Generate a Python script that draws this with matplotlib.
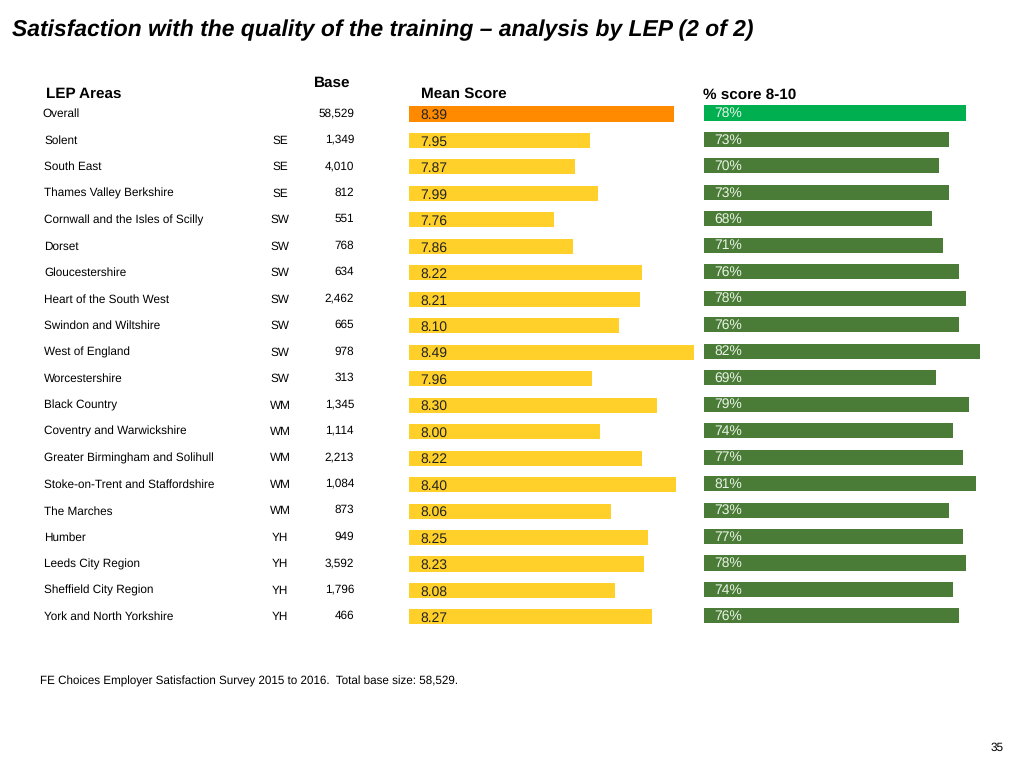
import numpy as np
import matplotlib.pyplot as plt

plt.rcParams['font.family'] = ['Liberation Sans', 'DejaVu Sans']
plt.rcParams['text.hinting'] = 'no_hinting'

# datos ----------------------------------------------------------------

areas = ["Overall", "Solent", "South East", "Thames Valley Berkshire",
         "Cornwall and the Isles of Scilly", "Dorset", "Gloucestershire",
         "Heart of the South West", "Swindon and Wiltshire", "West of England",
         "Worcestershire", "Black Country", "Coventry and Warwickshire",
         "Greater Birmingham and Solihull", "Stoke-on-Trent and Staffordshire",
         "The Marches", "Humber", "Leeds City Region", "Sheffield City Region",
         "York and North Yorkshire"]
regions = ["", "SE", "SE", "SE", "SW", "SW", "SW", "SW", "SW", "SW", "SW",
           "WM", "WM", "WM", "WM", "WM", "YH", "YH", "YH", "YH"]
bases = ["58,529", "1,349", "4,010", "812", "551", "768", "634", "2,462", "665",
         "978", "313", "1,345", "1,114", "2,213", "1,084", "873", "949", "3,592",
         "1,796", "466"]
mean_score = [8.39, 7.95, 7.87, 7.99, 7.76, 7.86, 8.22, 8.21, 8.10, 8.49, 7.96,
              8.30, 8.00, 8.22, 8.40, 8.06, 8.25, 8.23, 8.08, 8.27]
pct_8_10 = [78, 73, 70, 73, 68, 71, 76, 78, 76, 82, 69, 79, 74, 77, 81, 73, 77,
            78, 74, 76]

# colores ----------------------------------------------------------------

ORANGE = "#FF8A00"
YELLOW = "#FFD02A"
BRIGHT_GREEN = "#00B050"
DARK_GREEN = "#4A7C37"

W, H = 1024, 768
n = len(areas)
rows = np.arange(n)

# fila i centrada en y_px = 113 + 26.47*i
row0, pitch = 113.0, 26.47
top_px = row0 - 0.5 * pitch
bot_px = row0 + (n - 0.5) * pitch


def axes_px(left, right, shift=0.0):
    return [left / W, 1 - (bot_px + shift) / H, (right - left) / W,
            (bot_px - top_px) / H]


fig = plt.figure(figsize=(W / 100, H / 100), dpi=100)

# tabla de la izquierda ----------------------------------------------------
ax_t = fig.add_axes(axes_px(0, W))
ax_t.set_xlim(0, W)
ax_t.set_ylim(n - 0.5, -0.5)
ax_t.axis("off")
for i in rows:
    x_name = 42 if i == 0 else 44
    ax_t.text(x_name, i, areas[i], ha="left", va="center_baseline", fontsize=8.5)
    ax_t.text(280, i, regions[i], ha="center", va="center_baseline", fontsize=8.5)
    ax_t.text(354, i - 0.04, bases[i], ha="right", va="center_baseline", fontsize=8.5)

# mean score ---------------------------------------------------------------
ax_m = fig.add_axes(axes_px(409, 409 + 191 * 1.6, shift=1.0))
colors_m = [ORANGE] + [YELLOW] * (n - 1)
ax_m.barh(rows, np.array(mean_score) - 7.0, left=7.0, height=0.57,
          color=colors_m, edgecolor="none")
for i, v in enumerate(mean_score):
    ax_m.text(7.06, i, f"{v:.2f}", ha="left", va="center_baseline", fontsize=10,
              color="#222222")
ax_m.set_xlim(7.0, 8.6)
ax_m.set_ylim(n - 0.5, -0.5)
ax_m.axis("off")

# % score 8-10 -------------------------------------------------------------
ax_p = fig.add_axes(axes_px(704, 704 + 336, shift=0.0))
colors_p = [BRIGHT_GREEN] + [DARK_GREEN] * (n - 1)
ax_p.barh(rows, pct_8_10, height=0.57, color=colors_p, edgecolor="none")
for i, v in enumerate(pct_8_10):
    ax_p.text(3.0, i - 0.04, f"{v}%", ha="left", va="center_baseline", fontsize=10,
              color="#EAF3E6")
ax_p.set_xlim(0, 100)
ax_p.set_ylim(n - 0.5, -0.5)
ax_p.axis("off")

# textos -------------------------------------------------------------------
fig.text(12 / W, 1 - 28 / H,
         "Satisfaction with the quality of the training \u2013 analysis by LEP (2 of 2)",
         ha="left", va="center_baseline", fontsize=16.5, fontweight="bold",
         fontstyle="italic")
fig.text(46 / W, 1 - 92 / H, "LEP Areas", ha="left", va="center_baseline",
         fontsize=11, fontweight="bold")
fig.text(332 / W, 1 - 81 / H, "Base", ha="center", va="center_baseline",
         fontsize=11, fontweight="bold")
fig.text(421 / W, 1 - 92 / H, "Mean Score", ha="left", va="center_baseline",
         fontsize=11, fontweight="bold")
fig.text(703 / W, 1 - 93 / H, "% score 8-10", ha="left", va="center_baseline",
         fontsize=11, fontweight="bold")
fig.text(40 / W, 1 - 680 / H,
         "FE Choices Employer Satisfaction Survey 2015 to 2016.  Total base size: 58,529.",
         ha="left", va="center_baseline", fontsize=8.4)
fig.text(1004 / W, 1 - 747 / H, "35", ha="right", va="center_baseline", fontsize=8.5)

fig.savefig("out.png", dpi=100)
